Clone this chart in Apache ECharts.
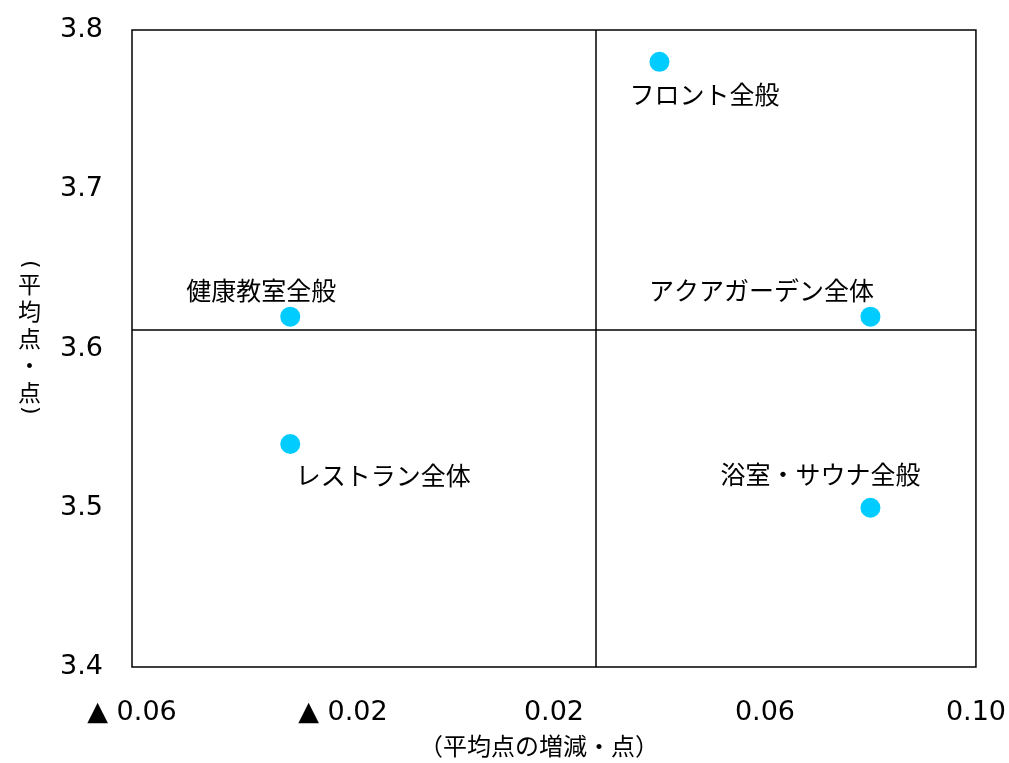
<!DOCTYPE html>
<html>
<head>
<meta charset="utf-8">
<script src="https://cdn.jsdelivr.net/npm/echarts@6/dist/echarts.min.js"></script>
<style>
  html, body { margin: 0; padding: 0; background: #fff; }
  #chart { width: 1009px; height: 763px; }
</style>
</head>
<body>
<div id="chart"></div>
<script>
// items and their values (change in average score, average score)
var names = ['フロント全般', '健康教室全般', 'アクアガーデン全体', 'レストラン全体', '浴室・サウナ全般'];
var deltas = [0.04, -0.03, 0.08, -0.03, 0.08];
var scores = [3.78, 3.62, 3.62, 3.54, 3.50];
// where each label sits relative to its dot
var labelOffsets = [[45, 33], [-29, -26], [-109, -26], [93, 31], [-50, -33]];
// dividing lines
var xMean = 0.028;
var yMean = 3.612;

var chart = echarts.init(document.getElementById('chart'));

var points = names.map(function (n, i) {
    return {
        name: n,
        value: [deltas[i], scores[i]],
        label: { offset: labelOffsets[i] }
    };
});

var tickFont = { fontFamily: 'DejaVu Sans', fontSize: 27, color: '#000' };
var jpFont = '"Noto Sans CJK JP", sans-serif';

// vertical y axis title, written top to bottom with turned brackets
var yTitle = {
    type: 'group',
    left: 18,
    top: 260,
    children: [
        { type: 'text', x: 12, y: 8, rotation: -Math.PI / 2,
          style: { text: '(', font: '22px "DejaVu Sans"', fill: '#000', align: 'center', verticalAlign: 'middle' } },
        { type: 'text', x: 12, y: 82,
          style: { text: '平\n均\n点\n・\n点', font: '23px ' + jpFont, lineHeight: 27, fill: '#000', align: 'center', verticalAlign: 'middle' } },
        { type: 'text', x: 12, y: 154, rotation: -Math.PI / 2,
          style: { text: ')', font: '22px "DejaVu Sans"', fill: '#000', align: 'center', verticalAlign: 'middle' } }
    ]
};

var option = {
    animation: false,
    graphic: [yTitle],
    grid: {
        left: 132, right: 32, top: 30, bottom: 94,
        show: true, borderColor: '#000', borderWidth: 1.5
    },
    xAxis: {
        type: 'value',
        min: -0.06, max: 0.10, interval: 0.04,
        axisLine: { show: false },
        axisTick: { show: false },
        splitLine: { show: false },
        axisLabel: Object.assign({
            margin: 32,
            formatter: function (v) {
                var s = Math.abs(v).toFixed(2);
                return v < 0 ? '▲ ' + s : s;
            }
        }, tickFont),
        name: '（平均点の増減・点）',
        nameLocation: 'middle',
        nameGap: 67,
        nameTextStyle: { fontFamily: jpFont, fontSize: 24, color: '#000', padding: [0, 30, 0, 0] }
    },
    yAxis: {
        type: 'value',
        min: 3.4, max: 3.8, interval: 0.1,
        axisLine: { show: false },
        axisTick: { show: false },
        splitLine: { show: false },
        axisLabel: Object.assign({
            margin: 29,
            formatter: function (v) { return v.toFixed(1); }
        }, tickFont)
    },
    series: [{
        type: 'scatter',
        symbolSize: 20,
        itemStyle: { color: '#00CCFF', opacity: 1 },
        label: {
            show: true,
            position: 'inside',
            align: 'center',
            verticalAlign: 'middle',
            formatter: '{b}',
            fontFamily: jpFont,
            fontSize: 25,
            color: '#000'
        },
        data: points,
        markLine: {
            silent: true,
            symbol: 'none',
            precision: 4,
            label: { show: false },
            lineStyle: { color: '#000', width: 1.5, type: 'solid' },
            data: [{ xAxis: xMean }, { yAxis: yMean }]
        }
    }]
};

chart.setOption(option);
window.addEventListener('resize', function () { chart.resize(); });
</script>
</body>
</html>
